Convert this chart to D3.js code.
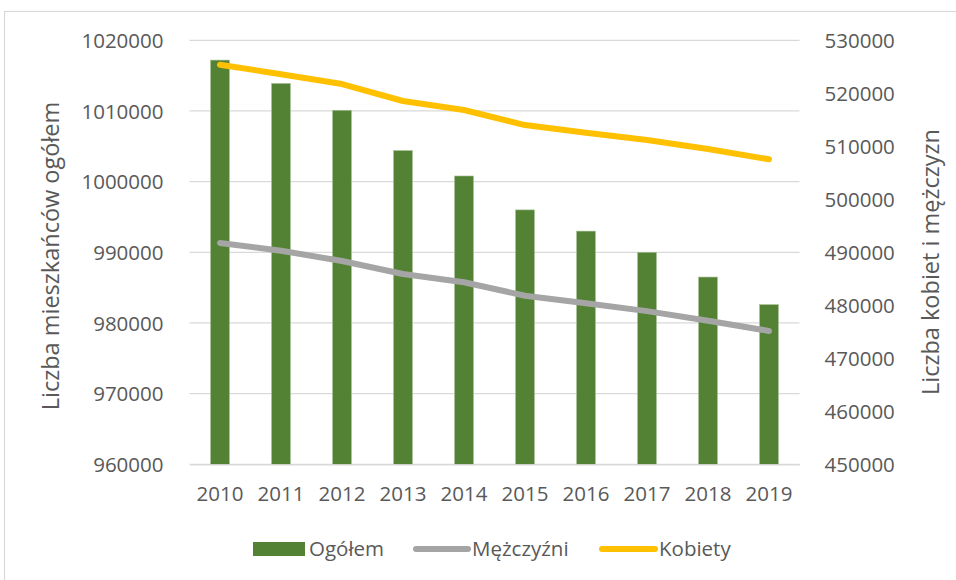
<!DOCTYPE html>
<html>
<head>
<meta charset="utf-8">
<script src="https://cdn.jsdelivr.net/npm/d3@7"></script>
<style>
  body { margin: 0; background: #fff; }
  svg text { font-family: "Open Sans", Lato, sans-serif; fill: #595959; }
</style>
</head>
<body>
<svg id="chart" width="956" height="580"></svg>
<script>
// data
const years = ["2010", "2011", "2012", "2013", "2014", "2015", "2016", "2017", "2018", "2019"];
const ogolem = [1017200, 1013900, 1010100, 1004400, 1000800, 996000, 993000, 990000, 986500, 982600];
const mezczyzni = [491750, 490300, 488350, 485900, 484350, 481800, 480400, 478900, 477100, 475150];
const kobiety = [525400, 523600, 521750, 518550, 516850, 514000, 512550, 511200, 509500, 507550];
const leftTicks = [960000, 970000, 980000, 990000, 1000000, 1010000, 1020000];
const rightTicks = [450000, 460000, 470000, 480000, 490000, 500000, 510000, 520000, 530000];

const green = "#548235", gray = "#a5a5a5", yellow = "#ffc000";

const svg = d3.select("#chart");

// outer chart border (cut off at right and bottom)
svg.append("rect")
  .attr("x", 4.5).attr("y", 11.5)
  .attr("width", 1000).attr("height", 1000)
  .attr("fill", "none")
  .attr("stroke", "#d9d9d9")
  .attr("stroke-width", 1.2);

const plot = { left: 189.5, right: 799.5, top: 40.3, bottom: 464.3 };

const x = d3.scaleBand()
  .domain(years)
  .range([plot.left, plot.right])
  .paddingInner(0.69)
  .paddingOuter(0.345);

const yL = d3.scaleLinear().domain([960000, 1020000]).range([plot.bottom, plot.top]);
const yR = d3.scaleLinear().domain([450000, 530000]).range([plot.bottom, plot.top]);

// gridlines
svg.append("g")
  .selectAll("line")
  .data(leftTicks)
  .enter()
  .append("line")
  .attr("x1", plot.left).attr("x2", plot.right)
  .attr("y1", d => yL(d)).attr("y2", d => yL(d))
  .attr("stroke", "#d9d9d9")
  .attr("stroke-width", 1.3);

// left axis
const leftAxis = svg.append("g")
  .attr("transform", `translate(${plot.left - 23},0)`)
  .call(d3.axisLeft(yL).tickValues(leftTicks).tickSize(0).tickFormat(d3.format("d")));
leftAxis.select(".domain").remove();
leftAxis.selectAll("text").attr("font-size", "20.5px").attr("fill", "#595959").attr("dy", "0.35em");

// right axis
const rightAxis = svg.append("g")
  .attr("transform", `translate(${plot.right + 22},0)`)
  .call(d3.axisRight(yR).tickValues(rightTicks).tickSize(0).tickFormat(d3.format("d")));
rightAxis.select(".domain").remove();
rightAxis.selectAll("text").attr("font-size", "20.5px").attr("fill", "#595959").attr("dy", "0.35em");

// bars
svg.append("g")
  .selectAll("rect")
  .data(years)
  .enter()
  .append("rect")
  .attr("x", d => x(d))
  .attr("y", (d, i) => yL(ogolem[i]))
  .attr("width", x.bandwidth())
  .attr("height", (d, i) => yL(960000) - yL(ogolem[i]))
  .attr("fill", green)
  .attr("stroke", "#a9c196")
  .attr("stroke-width", 0.6);

// bottom axis
const bottomAxis = svg.append("g")
  .attr("transform", `translate(0,${plot.bottom})`)
  .call(d3.axisBottom(x).tickSize(0).tickPadding(30));
bottomAxis.select(".domain")
  .attr("stroke", "#d9d9d9")
  .attr("stroke-width", 1.3);
bottomAxis.selectAll("text").attr("font-size", "20.5px").attr("fill", "#595959").attr("dy", "0.35em");

// lines
const cx = d => x(d) + x.bandwidth() / 2;
const drawLine = (vals, color) => {
  const line = d3.line()
    .x((d, i) => cx(years[i]))
    .y(d => yR(d));
  svg.append("path")
    .datum(vals)
    .attr("d", line)
    .attr("fill", "none")
    .attr("stroke", color)
    .attr("stroke-width", 6)
    .attr("stroke-linecap", "round")
    .attr("stroke-linejoin", "round");
};
drawLine(mezczyzni, gray);
drawLine(kobiety, yellow);

// axis titles
svg.append("text")
  .attr("transform", "translate(51,256) rotate(-90)")
  .attr("text-anchor", "middle")
  .attr("dy", "0.35em")
  .attr("font-size", "23.5px")
  .text("Liczba mieszkańców ogółem");

svg.append("text")
  .attr("transform", "translate(931,262) rotate(-90)")
  .attr("text-anchor", "middle")
  .attr("dy", "0.35em")
  .attr("font-size", "23.5px")
  .text("Liczba kobiet i mężczyzn");

// legend
const legend = svg.append("g");
legend.append("rect")
  .attr("x", 253).attr("y", 542)
  .attr("width", 52).attr("height", 14)
  .attr("fill", green);
legend.append("text").attr("x", 309).attr("y", 549).attr("dy", "0.35em")
  .attr("font-size", "20.5px").text("Ogółem");

legend.append("line")
  .attr("x1", 416).attr("x2", 468).attr("y1", 549).attr("y2", 549)
  .attr("stroke", gray).attr("stroke-width", 6).attr("stroke-linecap", "round");
legend.append("text").attr("x", 472).attr("y", 549).attr("dy", "0.35em")
  .attr("font-size", "20.5px").text("Mężczyźni");

legend.append("line")
  .attr("x1", 602).attr("x2", 655).attr("y1", 549).attr("y2", 549)
  .attr("stroke", yellow).attr("stroke-width", 6).attr("stroke-linecap", "round");
legend.append("text").attr("x", 659).attr("y", 549).attr("dy", "0.35em")
  .attr("font-size", "20.5px").text("Kobiety");
</script>
</body>
</html>
